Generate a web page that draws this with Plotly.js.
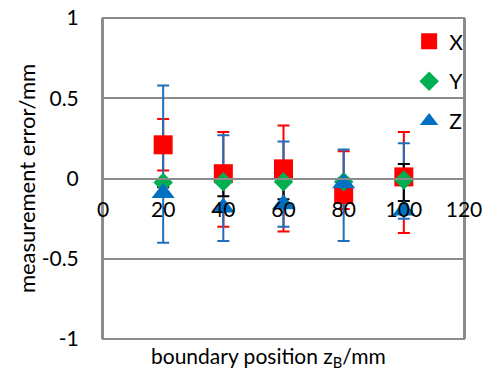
<!DOCTYPE html>
<html>
<head>
<meta charset="utf-8">
<script src="https://cdn.plot.ly/plotly-3.0.1.min.js"></script>
<style>html,body{margin:0;padding:0;background:#fff}#chart{width:490px;height:370px}</style>
</head>
<body>
<div id="chart"></div>
<script>
// Data
var positions = [20, 40, 60, 80, 100];

var xErrorMean  = [0.21, 0.03, 0.06, -0.10, 0.01];
var xErrPlus    = [0.16, 0.26, 0.27, 0.27, 0.28];
var xErrMinus   = [0.16, 0.33, 0.39, 0.09, 0.35];

var yErrorMean  = [-0.025, -0.02, -0.02, -0.02, -0.01];
var yErrPlus    = [0.02, 0.09, 0.10, 0.02, 0.10];
var yErrMinus   = [0.03, 0.09, 0.11, 0.02, 0.13];

var zErrorMean  = [-0.09, -0.18, -0.16, -0.03, -0.20];
var zErrPlus    = [0.67, 0.45, 0.39, 0.21, 0.42];
var zErrMinus   = [0.31, 0.21, 0.14, 0.36, 0.05];

var seriesNames = ['X', 'Y', 'Z'];
var yTickVals = [-1, -0.5, 0, 0.5, 1];
var yTickText = ['-1', '-0.5', '0', '0.5', '1'];
var xTickVals = [0, 20, 40, 60, 80, 100, 120];
var xTickText = ['0', '20', '40', '60', '80', '100', '120'];

var FONT = 'Lato, "Liberation Sans", sans-serif';
var GRID = '#8c8c8c';

function errTrace(yv, plus, minus, color) {
  return {
    x: positions, y: yv, type: 'scatter', mode: 'markers',
    marker: {size: 1, color: 'rgba(0,0,0,0)'},
    showlegend: false, hoverinfo: 'skip',
    error_y: {type: 'data', symmetric: false, array: plus, arrayminus: minus,
              color: color, thickness: 2, width: 6}
  };
}
function markTrace(yv, name, symbol, size, color, group) {
  return {
    x: positions, y: yv, type: 'scatter', mode: 'markers', name: name,
    legendgroup: group,
    marker: {symbol: symbol, size: size, color: color, line: {width: 0}}
  };
}

var data = [
  errTrace(xErrorMean, xErrPlus, xErrMinus, '#ff0000'),
  errTrace(zErrorMean, zErrPlus, zErrMinus, '#1f6fbf'),
  errTrace(yErrorMean, yErrPlus, yErrMinus, '#000000'),
  markTrace(xErrorMean, seriesNames[0], 'square', 19, '#ff0000', 'g1'),
  markTrace(yErrorMean, seriesNames[1], 'diamond', 15, '#00b050', 'g2'),
  markTrace(zErrorMean, seriesNames[2], 'triangle-up', 20, '#0070c0', 'g3')
];

var layout = {
  width: 490, height: 370,
  margin: {l: 103, r: 26, t: 18, b: 31},
  paper_bgcolor: '#ffffff', plot_bgcolor: '#ffffff',
  font: {family: FONT, size: 21, color: '#000000'},
  showlegend: true,
  legend: {x: 0.848, xanchor: 'left', y: 0.99, yanchor: 'top',
           bgcolor: 'rgba(0,0,0,0)', font: {family: FONT, size: 21, color: '#000'},
           tracegroupgap: 9.5, traceorder: 'grouped'},
  xaxis: {
    range: [0, 120], tickvals: xTickVals, ticktext: xTickText,
    anchor: 'free', position: 0.5,
    showline: true, linecolor: GRID, linewidth: 2,
    showgrid: false, zeroline: false, ticks: '',
    ticklabelstandoff: 12,
    tickfont: {family: FONT, size: 21, color: '#000'}
  },
  yaxis: {
    range: [-1, 1], tickvals: yTickVals, ticktext: yTickText,
    showgrid: true, gridcolor: GRID, gridwidth: 2,
    zeroline: false, showline: true, linecolor: GRID, linewidth: 2, mirror: true,
    ticks: '', ticklabelstandoff: 18,
    tickfont: {family: FONT, size: 21, color: '#000'},
    title: {text: 'measurement error/mm', font: {family: FONT, size: 22, color: '#000'}, standoff: 0}
  },
  shapes: [{type: 'rect', xref: 'paper', yref: 'paper', x0: 0, x1: 1, y0: 0, y1: 1,
            line: {color: GRID, width: 2}, layer: 'below'}],
  annotations: [{
    text: 'boundary position z<sub>B</sub>/mm', xref: 'paper', yref: 'paper',
    x: 0.458, y: 0, xanchor: 'center', yanchor: 'middle', yshift: -18, showarrow: false,
    font: {family: FONT, size: 21, color: '#000'}
  }]
};

Plotly.newPlot('chart', data, layout, {displayModeBar: false, staticPlot: true});
</script>
</body>
</html>
